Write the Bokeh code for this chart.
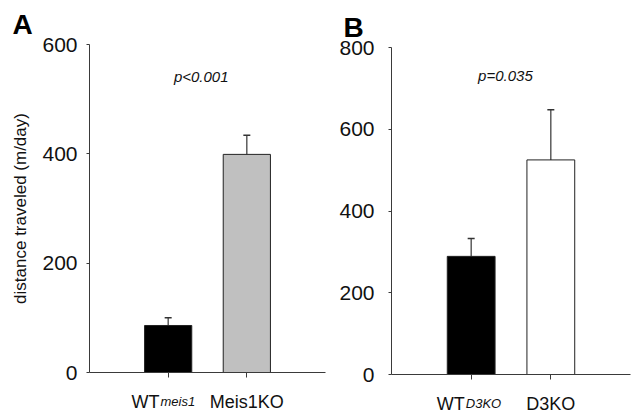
from bokeh.plotting import figure
from bokeh.models import ColumnDataSource, Whisker, TeeHead, Label, FixedTicker, Range1d, Title
from bokeh.core.properties import value
from bokeh.layouts import row, column
from bokeh.embed import file_html
from bokeh.resources import INLINE

# ---- data ----
cats_a = ["WT", "Meis1KO"]
sub_a = "meis1"
vals_a = [86, 399]
errs_a = [14, 35]
colors_a = ["#000000", "#c0c0c0"]
yticks_a = [0, 200, 400, 600]

cats_b = ["WT", "D3KO"]
sub_b = "D3KO"
vals_b = [289, 525]
errs_b = [44, 123]
colors_b = ["#000000", "#ffffff"]
yticks_b = [0, 200, 400, 600, 800]

FONT = "Liberation Sans"
AX = "#3a3a3a"
TXT = "#111111"


def panel(width, bl, br, bt, bb, vals, errs, colors, yticks, ymax,
          letter, letter_off, ptext, ptext_xy, cats, sub, sub_x, lab_y,
          ylabel=None, standoff=12):
    xs = [1, 2]
    xr = Range1d(0, 3)
    p = figure(width=width, height=384, output_backend="svg",
               toolbar_location=None, x_range=xr,
               y_range=Range1d(0, ymax),
               min_border_left=bl, min_border_right=br,
               min_border_top=bt, min_border_bottom=bb)
    p.outline_line_color = None
    p.xgrid.visible = False
    p.ygrid.visible = False

    src = ColumnDataSource(dict(x=xs, top=vals, up=[v + e for v, e in zip(vals, errs)],
                                color=colors))
    p.vbar(x="x", top="top", bottom=0, width=0.6, fill_color="color",
           line_color="#222222", line_width=1, source=src)
    w = Whisker(base="x", lower="top", upper="up", source=src, dimension="height",
                line_color="#333333", line_width=1.2,
                upper_head=TeeHead(size=7, line_color="#333333", line_width=1.5),
                lower_head=None)
    p.add_layout(w)

    # axes
    p.xaxis.ticker = FixedTicker(ticks=xs)
    p.xaxis.major_label_overrides = {1: "", 2: ""}
    p.xaxis.major_label_text_font_size = "1px"
    p.xaxis.major_label_standoff = 0
    p.xaxis.major_tick_out = 5
    p.xaxis.major_tick_in = 0
    p.xaxis.minor_tick_line_color = None
    p.xaxis.axis_line_color = AX
    p.xaxis.major_tick_line_color = AX

    p.yaxis.ticker = FixedTicker(ticks=yticks)
    p.yaxis.major_tick_out = 3
    p.yaxis.major_tick_in = 0
    p.yaxis.minor_tick_line_color = None
    p.yaxis.axis_line_color = AX
    p.yaxis.major_tick_line_color = AX
    p.yaxis.major_label_text_font = FONT
    p.yaxis.major_label_text_font_size = "21px"
    p.yaxis.major_label_text_color = TXT
    p.yaxis.major_label_standoff = standoff
    if ylabel:
        p.yaxis.axis_label = ylabel
        p.yaxis.axis_label_text_font = FONT
        p.yaxis.axis_label_text_font_style = "normal"
        p.yaxis.axis_label_text_font_size = "17px"
        p.yaxis.axis_label_text_color = TXT
        p.yaxis.axis_label_standoff = 9

    # panel letter
    p.add_layout(Title(text=letter, align="left", offset=letter_off,
                       text_font=FONT, text_font_size="28px",
                       text_font_style="bold", text_color="#000000"), "above")
    # p-value
    p.add_layout(Label(x=ptext_xy[0], y=ptext_xy[1], text=ptext, text_font=FONT,
                       text_font_size="15px", text_font_style="italic",
                       text_baseline="alphabetic", text_align="center",
                       text_color=TXT))

    # category label strip (shares the x range)
    s = figure(width=width, height=28, output_backend="svg", toolbar_location=None,
               x_range=xr, y_range=Range1d(0, 28),
               min_border_left=bl, min_border_right=br,
               min_border_top=0, min_border_bottom=0)
    s.axis.visible = False
    s.grid.visible = False
    s.outline_line_color = None
    s.text(x=[sub_x], y=[lab_y], text=[cats[0]], text_font=value(FONT),
           text_font_size="18px", text_baseline="alphabetic", text_align="right",
           text_color=TXT)
    s.text(x=[sub_x], y=[lab_y], text=[sub], text_font=value(FONT),
           text_font_size="13px", text_font_style="italic", x_offset=1,
           text_baseline="alphabetic", text_align="left", text_color=TXT)
    s.text(x=[xs[1]], y=[lab_y], text=[cats[1]], text_font=value(FONT),
           text_font_size="18px", text_baseline="alphabetic", text_align="center",
           text_color=TXT)
    return column(p, s, spacing=0)


pa = panel(330, 89, 5, 44, 12, vals_a, errs_a, colors_a, yticks_a, 600,
           "A", -77, "p<0.001", (1.42, 542),
           cats_a, sub_a, 0.89, 11,
           ylabel="distance traveled (m/day)", standoff=9)
pb = panel(308, 61, 8, 47, 10, vals_b, errs_b, colors_b, yticks_b, 800,
           "B", -48, "p=0.035", (1.43, 731),
           cats_b, sub_b, 0.92, 9, standoff=14)

layout = row(pa, pb, spacing=0)
open("out.html", "w").write(file_html(layout, INLINE))
